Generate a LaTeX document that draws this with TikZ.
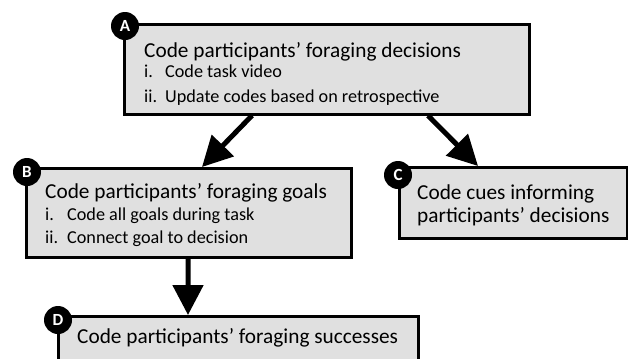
\documentclass[tikz,border=0pt]{standalone}
\usepackage{fontspec}
\setmainfont{Carlito}
\usetikzlibrary{arrows.meta}
\definecolor{boxgray}{HTML}{E0E0E0}
\tikzset{
  box/.style={draw=black, line width=2.5bp, fill=boxgray, anchor=north west, inner sep=0pt},
  badge/.style={circle, fill=black, text=white, inner sep=0pt, minimum size=28bp, font=\fontsize{17bp}{17bp}\selectfont\bfseries},
  title/.style={anchor=base west, inner sep=0pt, font=\fontsize{21.3bp}{22bp}\selectfont},
  item/.style={anchor=base west, inner sep=0pt, font=\fontsize{18.2bp}{19bp}\selectfont},
  bigarrow/.style={line width=5bp, -{Triangle[length=30bp,width=30bp]}, shorten >=0pt}
}
\begin{document}
\begin{tikzpicture}[x=1bp,y=-1bp]
\useasboundingbox (0,0) rectangle (628,358);
\clip (0,0) rectangle (628,358);
\fill[white] (0,0) rectangle (628,358);
% boxes
\node[box, minimum width=405bp, minimum height=90bp] (A) at (123,23) {};
\node[box, minimum width=325bp, minimum height=89bp] (B) at (25,167) {};
\node[box, minimum width=228bp, minimum height=71bp] (C) at (398,166) {};
\node[box, minimum width=360bp, minimum height=80bp] (D) at (57,315) {};
% badges
\node[badge] (bA) at (125,26) {A};
\node[badge] (bB) at (27,172) {B};
\node[badge] (bC) at (398,175) {C};
\node[badge] (bD) at (58,320) {D};
% texts A
\node[title] (tA) at (144,57) {Code participants’ foraging decisions};
\node[item] (iA1) at (144,77) {i.};
\node[item] (iA1t) at (165,77) {Code task video};
\node[item] (iA2) at (144,102) {ii.};
\node[item] (iA2t) at (165,102) {Update codes based on retrospective};
% texts B
\node[title] (tB) at (45,198) {Code participants’ foraging goals};
\node[item] (iB1) at (45,220) {i.};
\node[item] (iB1t) at (67,220) {Code all goals during task};
\node[item] (iB2) at (45,243) {ii.};
\node[item] (iB2t) at (67,243) {Connect goal to decision};
% texts C
\node[title] (tC1) at (417,199) {Code cues informing};
\node[title] (tC2) at (417,222) {participants’ decisions};
% text D
\node[title] (tD) at (77,343) {Code participants’ foraging successes};
% arrows
\draw[bigarrow] ([xshift=129bp]A.south west) -- ([xshift=177bp]B.north west);
\draw[bigarrow] ([xshift=305bp]A.south west) -- ([xshift=80bp]C.north west);
\draw[bigarrow] ([xshift=163bp]B.south west) -- ([xshift=131bp]D.north west);
\end{tikzpicture}
\end{document}
